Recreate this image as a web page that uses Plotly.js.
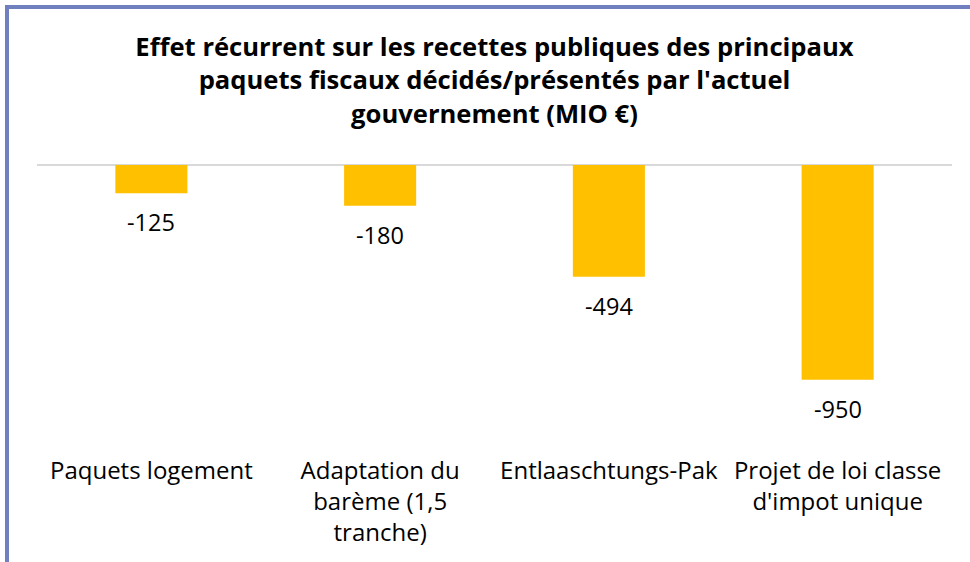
<!DOCTYPE html>
<html>
<head>
<meta charset="utf-8">
<script src="https://cdn.plot.ly/plotly-3.0.1.min.js"></script>
<style>
  html, body { margin: 0; padding: 0; background: #ffffff; }
  #wrap { position: relative; width: 970px; height: 562px; overflow: hidden; }
  #chart { position: absolute; left: 0; top: 0; width: 970px; height: 562px; }
  #frame { position: absolute; left: 5px; top: 5px; right: -10px; bottom: -10px;
           border-left: 4px solid #7080bf; border-top: 4px solid #7080bf; pointer-events: none; }
</style>
</head>
<body>
<div id="wrap">
  <div id="chart"></div>
  <div id="frame"></div>
</div>
<script>
const titleLines = [
  "Effet récurrent sur les recettes publiques des principaux",
  "paquets fiscaux décidés/présentés par l'actuel",
  "gouvernement (MIO €)"
];
const categories = ["Paquets logement", "Adaptation du barème (1,5 tranche)", "Entlaaschtungs-Pak", "Projet de loi classe d'impot unique"];
const tickLabels = [
  "Paquets logement",
  "Adaptation du<br>barème (1,5<br>tranche)",
  "Entlaaschtungs-Pak",
  "Projet de loi classe<br>d'impot unique"
];
const values = [-125, -180, -494, -950];

const font = "'Open Sans', 'Noto Sans', sans-serif";

const annotations = values.map((v, i) => ({
  x: categories[i], y: v, xref: 'x', yref: 'y',
  text: String(v), showarrow: false,
  yanchor: 'middle', yshift: -29,
  font: { family: font, size: 23.5, color: '#000000' }
}));

const trace = {
  type: 'bar',
  x: categories,
  y: values,
  marker: { color: '#FFC000' },
  hoverinfo: 'x+y'
};

const layout = {
  width: 970, height: 562,
  margin: { l: 37, r: 18, t: 164, b: 112, pad: 0 },
  paper_bgcolor: '#ffffff', plot_bgcolor: '#ffffff',
  showlegend: false,
  bargap: 0.685,
  title: {
    text: titleLines.join('<br>'),
    font: { family: font, size: 25.6, color: '#000000', weight: 700 },
    x: 0.5, xref: 'paper', xanchor: 'center',
    y: 1 - 56 / 562, yref: 'container', yanchor: 'top'
  },
  xaxis: {
    type: 'category',
    tickvals: categories,
    ticktext: tickLabels,
    showline: false, showgrid: false, zeroline: false,
    ticks: '', ticklabelstandoff: 4,
    tickfont: { family: font, size: 24, color: '#000000' }
  },
  yaxis: {
    range: [-1260, 4],
    showticklabels: false, showgrid: false, showline: false, ticks: '',
    zeroline: true, zerolinecolor: '#d9d9d9', zerolinewidth: 2
  },
  annotations: annotations
};

Plotly.newPlot('chart', [trace], layout, { displayModeBar: false, staticPlot: true });
</script>
</body>
</html>
